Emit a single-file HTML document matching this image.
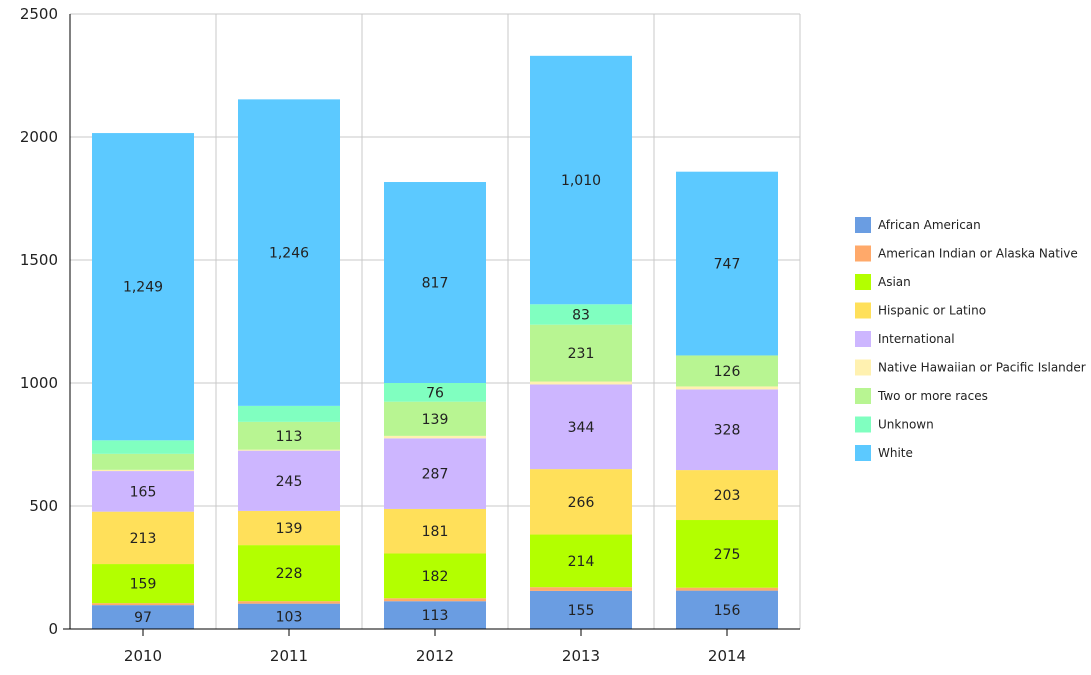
<!DOCTYPE html>
<html><head><meta charset="utf-8"><style>
body{margin:0;background:#fff;font-family:"Liberation Sans","DejaVu Sans",sans-serif}
svg text{font-family:"DejaVu Sans","Liberation Sans",sans-serif}
</style></head><body>
<svg id="c" width="1091" height="670"></svg>
<script>
const years=["2010","2011","2012","2013","2014"];
const seriesNames=["African American","American Indian or Alaska Native","Asian","Hispanic or Latino","International","Native Hawaiian or Pacific Islander","Two or more races","Unknown","White"];
const colors=["#6a9de2","#ffa96a","#b3ff00","#ffe05a","#cdb6ff","#fff1b0","#b8f592","#80ffc0","#5cc9ff"];
const africanAmerican=[97,103,113,155,156];
const americanIndian=[8,10,12,15,12];
const asian=[159,228,182,214,275];
const hispanic=[213,139,181,266,203];
const international=[165,245,287,344,328];
const nativeHawaiian=[5,4,10,12,12];
const twoOrMore=[65,113,139,231,126];
const unknown=[55,65,76,83,0];
const white=[1249,1246,817,1010,747];
const yTicks=[0,500,1000,1500,2000,2500];
const series=[africanAmerican,americanIndian,asian,hispanic,international,nativeHawaiian,twoOrMore,unknown,white];
const svg=document.getElementById('c');const NS="http://www.w3.org/2000/svg";
function mk(t,a,p){const e=document.createElementNS(NS,t);for(const k in a)e.setAttribute(k,a[k]);(p||svg).appendChild(e);return e;}
const L=70,R=800,T=14,B=629,ymax=2500;
const y=v=>B-(v/ymax)*(B-T);
const cw=(R-L)/years.length;
const xc=i=>L+cw*(i+0.5);
const bw=102;
yTicks.forEach(t=>{const g=mk('line',{x1:L,x2:R,y1:y(t),y2:y(t),stroke:'#c8c8c8'});


const tx=mk('text',{x:L-12,y:y(t)+5,'text-anchor':'end','font-size':15,fill:'#222'});tx.textContent=t;


});
for(let i=1;i<=years.length;i++){const v=mk('line',{x1:L+cw*i,x2:L+cw*i,y1:T,y2:B,stroke:'#c8c8c8'});

}
years.forEach((yr,i)=>{let acc=0;
series.forEach((s,k)=>{const v=s[i];if(v<=0)return;
const r=mk('rect',{x:xc(i)-bw/2,y:y(acc+v),width:bw,height:y(acc)-y(acc+v),fill:colors[k]});


if(v>=70){const t=mk('text',{x:xc(i),y:(y(acc)+y(acc+v))/2+5,'text-anchor':'middle','font-size':14,fill:'#222'});t.textContent=v.toLocaleString('en-US');

}
acc+=v;});
const xl=mk('text',{x:xc(i),y:B+32,'text-anchor':'middle','font-size':15,fill:'#222'});xl.textContent=yr;


const tk=mk('line',{x1:xc(i),x2:xc(i),y1:B,y2:B+7,stroke:'#000'});


});
const ax=mk('line',{x1:L,x2:L,y1:T,y2:B,stroke:'#000'});


const bx=mk('line',{x1:L-7,x2:R,y1:B,y2:B,stroke:'#000'});


seriesNames.forEach((n,k)=>{const yy=225+k*28.5;
const g=mk('g',{});


mk('rect',{x:855,y:yy-8,width:16,height:16,fill:colors[k]},g);
const t=mk('text',{x:878,y:yy+4,'font-size':12,fill:'#222'},g);t.textContent=n;});
</script>
</body></html>
